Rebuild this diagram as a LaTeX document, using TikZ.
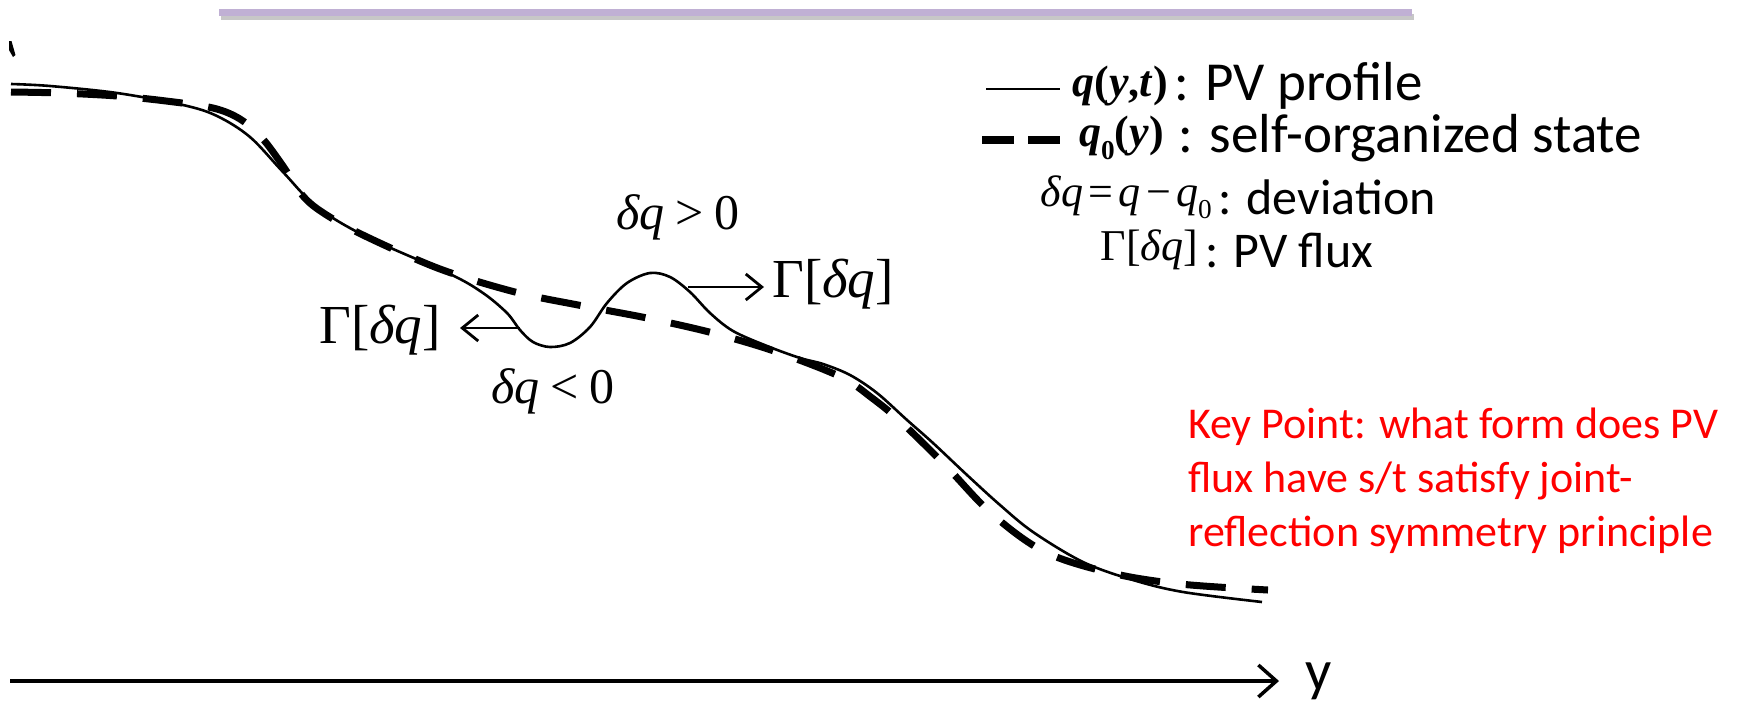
\documentclass[tikz,border=0pt]{standalone}
\usepackage{fontspec}
\usepackage{graphicx}
\setmainfont{Carlito}
\newfontfamily\tms{Liberation Serif}
\usetikzlibrary{arrows.meta}
\definecolor{barlav}{RGB}{192,176,212}
\newcommand{\mysub}[1]{\raisebox{-0.28em}{\scalebox{0.62}{#1}}}
\begin{document}
\begin{tikzpicture}[x=1pt,y=-1pt,
  solidcurve/.style={line width=2.6pt, line join=round},
  dashcurve/.style={line width=7pt, dash pattern=on 40pt off 26pt},
  legdash/.style={line width=7.5pt, dash pattern=on 32pt off 14pt},
  fluxarrow/.style={line width=1.8pt, -{Straight Barb[length=16pt,width=26pt,line width=2.8pt]}},
  axisarrow/.style={line width=3.5pt, -{Straight Barb[length=18pt,width=32pt]}},
  legA/.style={font=\fontsize{55}{60}\selectfont, inner sep=0pt},
  legB/.style={font=\fontsize{50}{54}\selectfont, inner sep=0pt},
  legmath/.style={font=\tms\fontsize{44}{48}\selectfont, inner sep=0pt},
  bigmath/.style={font=\tms\fontsize{50}{56}\selectfont, inner sep=0pt},
  fluxmath/.style={font=\tms\fontsize{55}{60}\selectfont, inner sep=0pt},
  keytext/.style={font=\fontsize{44}{54}\selectfont, text=red, align=left, inner sep=0pt}
]
\useasboundingbox (0,0) rectangle (1744,707);
% top bar
\fill[black!22] (221,14) rectangle (1414,20);
\fill[barlav] (219,9) rectangle (1412,16);
% tiny mark
\fill (9,41) -- (11.5,41) -- (15.5,55) -- (13,57) -- (9,50) -- cycle;
% dashed curve q0
\draw[dashcurve] plot[smooth, tension=0.55] coordinates {
 (11,92) (60,93) (117,96) (166,101) (213,108) (240,119) (262,138) (283,166) (303,196)
 (325,214) (365,236) (440,269) (515,292) (578,305) (647,318) (713,333) (777,352)
 (841,377) (872,398) (900,421) (945,465) (992,514) (1045,552) (1111,573) (1180,584) (1268,590)};
% solid curve q
\draw[solidcurve] plot[smooth, tension=0.55] coordinates {
 (11,84) (50,86) (117,93) (183,105) (217,116) (250,137) (283,172) (317,207) (367,237)
 (450,274) (483,293) (507,313) (520,330) (533,342) (550,347) (570,343) (590,327)
 (607,303) (627,283) (650,273) (670,277) (690,292) (710,313) (733,331) (767,346)
 (800,358) (823,364) (850,375) (877,393) (907,420) (933,443) (967,475) (1000,505)
 (1033,532) (1083,562) (1133,580) (1183,592) (1262,602)};
% labels on curve
\node[bigmath] (dqp) at (678,217) {\textit{δq}\hspace{0.22em}>\hspace{0.22em}0};
\node[bigmath] (dqm) at (553,391) {\textit{δq}\hspace{0.22em}<\hspace{0.22em}0};
\node[fluxmath, anchor=west] (gR) at (772,284) {Γ[\textit{δq}]};
\node[fluxmath, anchor=east] (gL) at (441,330) {Γ[\textit{δq}]};
\coordinate (pR) at (688,287);
\coordinate (tR) at (764,287);
\coordinate (pL) at (520,328);
\coordinate (tL) at (460,328);
\draw[fluxarrow] (pR) -- (tR);
\draw[fluxarrow] (pL) -- (tL);
% legend
\coordinate (l1a) at (986,89); \coordinate (l1b) at (1060,89);
\draw[line width=2.8pt] (l1a) -- (l1b);
\node[legmath, anchor=east] (m1) at (1168,86) {\bfseries\textit{q}(\textit{y},\textit{t})};
\node[legA, anchor=west] (t1) at (1174,86) {: PV profile};
\coordinate (l2a) at (982,140); \coordinate (l2b) at (1060,140);
\draw[legdash] (l2a) -- (l2b);
\node[legmath, anchor=east] (m2) at (1164,138) {\bfseries\textit{q}\mysub{0}(\textit{y})};
\node[legA, anchor=west] (t2) at (1178,138) {: self-organized state};
\node[legmath, anchor=east] (m3) at (1212,197) {\textit{δq}\hspace{0.12em}=\hspace{0.12em}\textit{q}\hspace{0.12em}−\hspace{0.12em}\textit{q}\mysub{0}};
\node[legB, anchor=west] (t3) at (1218,197) {: deviation};
\node[legmath, anchor=east] (m4) at (1198,250) {Γ[\textit{δq}]};
\node[legB, anchor=west] (t4) at (1205,250) {: PV flux};
% key point
\node[keytext, anchor=north west] (key) at (1188,408) {Key Point: what form does PV\\flux have s/t satisfy joint-\\reflection symmetry principle};
% axis
\coordinate (ax0) at (10,681);
\coordinate (ax1) at (1279,681);
\draw[axisarrow] (ax0) -- (ax1);
\node[font=\fontsize{58}{60}\selectfont, inner sep=0pt, anchor=base west] (ylab) at (1305,690) {y};
\end{tikzpicture}
\end{document}
